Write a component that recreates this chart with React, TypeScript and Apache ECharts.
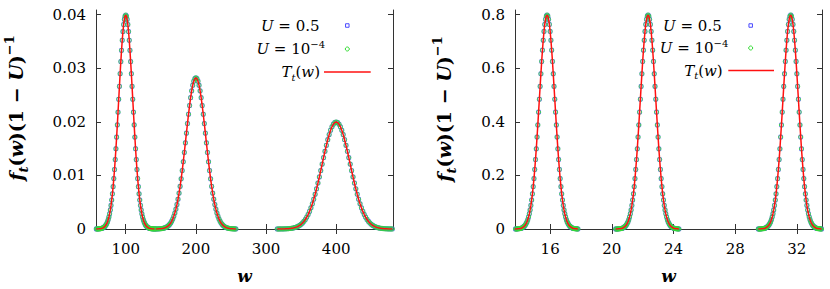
import React, { useEffect, useRef } from "react";
import * as echarts from "echarts";

// ---------- Left panel (w in [58, 481]) ----------
const leftXTicks = [100, 200, 300, 400];
const leftYTicks = [0, 0.01, 0.02, 0.03, 0.04];

const leftPeak1W = [58, 59, 60, 61, 62, 63, 64, 65, 66, 67, 68, 69, 70, 71, 72, 73, 74, 75, 76, 77, 78, 79,
  80, 81, 82, 83, 84, 85, 86, 87, 88, 89, 90, 91, 92, 93, 94, 95, 96, 97, 98, 99, 100,
  101, 102, 103, 104, 105, 106, 107, 108, 109, 110, 111, 112, 113, 114, 115, 116, 117, 118, 119, 120,
  121, 122, 123, 124, 125, 126, 127, 128, 129, 130, 131, 132, 133, 134, 135, 136, 137, 138, 139, 140, 141, 142];
const leftPeak1F = [0.00001, 0.00001, 0.00001, 0.00002, 0.00003, 0.00004, 0.00006, 0.00009, 0.00012, 0.00017,
  0.00024, 0.00033, 0.00044, 0.0006, 0.00079, 0.00104, 0.00136, 0.00175, 0.00224, 0.00283, 0.00355, 0.0044,
  0.0054, 0.00656, 0.0079, 0.00941, 0.01109, 0.01295, 0.01497, 0.01714, 0.01942, 0.02179, 0.0242, 0.02661,
  0.02897, 0.03123, 0.03333, 0.03521, 0.03683, 0.03814, 0.03911, 0.0397, 0.0399,
  0.0397, 0.03911, 0.03814, 0.03683, 0.03521, 0.03333, 0.03123, 0.02897, 0.02661, 0.0242, 0.02179, 0.01942,
  0.01714, 0.01497, 0.01295, 0.01109, 0.00941, 0.0079, 0.00656, 0.0054, 0.0044, 0.00355, 0.00283, 0.00224,
  0.00175, 0.00136, 0.00104, 0.00079, 0.0006, 0.00044, 0.00033, 0.00024, 0.00017, 0.00012, 0.00009, 0.00006,
  0.00004, 0.00003, 0.00002, 0.00001, 0.00001, 0.00001];

const leftPeak2W = [143, 144.5, 146, 147.5, 149, 150.5, 152, 153.5, 155, 156.5, 158, 159.5, 161, 162.5, 164, 165.5,
  167, 168.5, 170, 171.5, 173, 174.5, 176, 177.5, 179, 180.5, 182, 183.5, 185, 186.5, 188, 189.5, 191, 192.5,
  194, 195.5, 197, 198.5, 200, 201.5, 203, 204.5, 206, 207.5, 209, 210.5, 212, 213.5, 215, 216.5, 218, 219.5,
  221, 222.5, 224, 225.5, 227, 228.5, 230, 231.5, 233, 234.5, 236, 237.5, 239, 240.5, 242, 243.5, 245, 246.5,
  248, 249.5, 251, 252.5, 254, 255.5, 257];
const leftPeak2F = [0.00001, 0.00001, 0.00002, 0.00003, 0.00004, 0.00006, 0.00009, 0.00013, 0.00018, 0.00025,
  0.00034, 0.00047, 0.00063, 0.00084, 0.0011, 0.00144, 0.00185, 0.00236, 0.00297, 0.0037, 0.00456, 0.00555,
  0.00668, 0.00795, 0.00936, 0.0109, 0.01254, 0.01428, 0.01607, 0.01788, 0.01967, 0.02141, 0.02303, 0.0245,
  0.02577, 0.02681, 0.02757, 0.02804, 0.0282,
  0.02804, 0.02757, 0.02681, 0.02577, 0.0245, 0.02303, 0.02141, 0.01967, 0.01788, 0.01607, 0.01428, 0.01254,
  0.0109, 0.00936, 0.00795, 0.00668, 0.00555, 0.00456, 0.0037, 0.00297, 0.00236, 0.00185, 0.00144, 0.0011,
  0.00084, 0.00063, 0.00047, 0.00034, 0.00025, 0.00018, 0.00013, 0.00009, 0.00006, 0.00004, 0.00003, 0.00002,
  0.00001, 0.00001];

const leftPeak3W = [316, 318, 320, 322, 324, 326, 328, 330, 332, 334, 336, 338, 340, 342, 344, 346, 348, 350,
  352, 354, 356, 358, 360, 362, 364, 366, 368, 370, 372, 374, 376, 378, 380, 382, 384, 386, 388, 390, 392,
  394, 396, 398, 400, 402, 404, 406, 408, 410, 412, 414, 416, 418, 420, 422, 424, 426, 428, 430, 432, 434,
  436, 438, 440, 442, 444, 446, 448, 450, 452, 454, 456, 458, 460, 462, 464, 466, 468, 470, 472, 474, 476,
  478, 480];
const leftPeak3F = [0, 0, 0.00001, 0.00001, 0.00001, 0.00002, 0.00003, 0.00004, 0.00006, 0.00009, 0.00012,
  0.00016, 0.00022, 0.0003, 0.0004, 0.00052, 0.00068, 0.00088, 0.00112, 0.00142, 0.00177, 0.0022, 0.0027,
  0.00328, 0.00395, 0.0047, 0.00555, 0.00648, 0.00749, 0.00857, 0.00971, 0.01089, 0.0121, 0.01331, 0.01449,
  0.01561, 0.01666, 0.01761, 0.01842, 0.01907, 0.01955, 0.01985, 0.01995,
  0.01985, 0.01955, 0.01907, 0.01842, 0.01761, 0.01666, 0.01561, 0.01449, 0.01331, 0.0121, 0.01089, 0.00971,
  0.00857, 0.00749, 0.00648, 0.00555, 0.0047, 0.00395, 0.00328, 0.0027, 0.0022, 0.00177, 0.00142, 0.00112,
  0.00088, 0.00068, 0.00052, 0.0004, 0.0003, 0.00022, 0.00016, 0.00012, 0.00009, 0.00006, 0.00004, 0.00003,
  0.00002, 0.00001, 0.00001, 0.00001];

// ---------- Right panel (w in [13.72, 33.63]) ----------
const rightXTicks = [16, 20, 24, 28, 32];
const rightYTicks = [0, 0.2, 0.4, 0.6, 0.8];

const rightPeak1W = [13.7, 13.75, 13.8, 13.85, 13.9, 13.95, 14, 14.05, 14.1, 14.15, 14.2, 14.25, 14.3, 14.35,
  14.4, 14.45, 14.5, 14.55, 14.6, 14.65, 14.7, 14.75, 14.8, 14.85, 14.9, 14.95, 15, 15.05, 15.1, 15.15, 15.2,
  15.25, 15.3, 15.35, 15.4, 15.45, 15.5, 15.55, 15.6, 15.65, 15.7, 15.75, 15.8, 15.85, 15.9, 15.95, 16, 16.05,
  16.1, 16.15, 16.2, 16.25, 16.3, 16.35, 16.4, 16.45, 16.5, 16.55, 16.6, 16.65, 16.7, 16.75, 16.8, 16.85, 16.9,
  16.95, 17, 17.05, 17.1, 17.15, 17.2, 17.25, 17.3, 17.35, 17.4, 17.45, 17.5, 17.55, 17.6, 17.65, 17.7, 17.75,
  17.8];
const rightPeak2W = [20.25, 20.3, 20.35, 20.4, 20.45, 20.5, 20.55, 20.6, 20.65, 20.7, 20.75, 20.8, 20.85, 20.9,
  20.95, 21, 21.05, 21.1, 21.15, 21.2, 21.25, 21.3, 21.35, 21.4, 21.45, 21.5, 21.55, 21.6, 21.65, 21.7, 21.75,
  21.8, 21.85, 21.9, 21.95, 22, 22.05, 22.1, 22.15, 22.2, 22.25, 22.3, 22.35, 22.4, 22.45, 22.5, 22.55, 22.6,
  22.65, 22.7, 22.75, 22.8, 22.85, 22.9, 22.95, 23, 23.05, 23.1, 23.15, 23.2, 23.25, 23.3, 23.35, 23.4, 23.45,
  23.5, 23.55, 23.6, 23.65, 23.7, 23.75, 23.8, 23.85, 23.9, 23.95, 24, 24.05, 24.1, 24.15, 24.2, 24.25, 24.3,
  24.35];
const rightPeak3W = [29.5, 29.55, 29.6, 29.65, 29.7, 29.75, 29.8, 29.85, 29.9, 29.95, 30, 30.05, 30.1, 30.15,
  30.2, 30.25, 30.3, 30.35, 30.4, 30.45, 30.5, 30.55, 30.6, 30.65, 30.7, 30.75, 30.8, 30.85, 30.9, 30.95, 31,
  31.05, 31.1, 31.15, 31.2, 31.25, 31.3, 31.35, 31.4, 31.45, 31.5, 31.55, 31.6, 31.65, 31.7, 31.75, 31.8, 31.85,
  31.9, 31.95, 32, 32.05, 32.1, 32.15, 32.2, 32.25, 32.3, 32.35, 32.4, 32.45, 32.5, 32.55, 32.6, 32.65, 32.7,
  32.75, 32.8, 32.85, 32.9, 32.95, 33, 33.05, 33.1, 33.15, 33.2, 33.25, 33.3, 33.35, 33.4, 33.45, 33.5, 33.55,
  33.6];
const rightPeakF = [0, 0, 0, 0, 0.001, 0.001, 0.001, 0.002, 0.002, 0.003, 0.005, 0.007, 0.009, 0.012, 0.016,
  0.021, 0.027, 0.035, 0.045, 0.057, 0.071, 0.088, 0.108, 0.131, 0.158, 0.188, 0.222, 0.259, 0.299, 0.343,
  0.388, 0.436, 0.484, 0.532, 0.579, 0.625, 0.667, 0.704, 0.737, 0.763, 0.782, 0.794, 0.798,
  0.794, 0.782, 0.763, 0.737, 0.704, 0.667, 0.625, 0.579, 0.532, 0.484, 0.436, 0.388, 0.343, 0.299, 0.259,
  0.222, 0.188, 0.158, 0.131, 0.108, 0.088, 0.071, 0.057, 0.045, 0.035, 0.027, 0.021, 0.016, 0.012, 0.009,
  0.007, 0.005, 0.003, 0.002, 0.002, 0.001, 0.001, 0.001, 0, 0];

const FONT = "DejaVu Serif";
const BLUE = "#4a4aff";
const GREEN = "#33dd33";
const RED = "#ff1010";

const zip = (w: number[], f: number[]) => w.map((x, i) => [x, f[i]]);

function panelSeries(grid: number, peaks: [number[], number[]][]) {
  const s: any[] = [];
  peaks.forEach(([w, f]) =>
    s.push({
      type: "scatter", xAxisIndex: grid * 2, yAxisIndex: grid * 2, data: zip(w, f),
      symbol: "rect", symbolSize: 3.6, z: 2, silent: true,
      itemStyle: { color: "rgba(0,0,0,0)", borderColor: BLUE, borderWidth: 1, opacity: 0.8 },
    })
  );
  peaks.forEach(([w, f]) =>
    s.push({
      type: "scatter", xAxisIndex: grid * 2, yAxisIndex: grid * 2, data: zip(w, f),
      symbol: "circle", symbolSize: 4.2, z: 3, silent: true,
      itemStyle: { color: "rgba(0,0,0,0)", borderColor: GREEN, borderWidth: 1, opacity: 0.8 },
    })
  );
  peaks.forEach(([w, f]) =>
    s.push({
      type: "line", xAxisIndex: grid * 2, yAxisIndex: grid * 2, data: zip(w, f),
      showSymbol: false, z: 4, silent: true,
      lineStyle: { color: RED, width: 1.5 },
    })
  );
  return s;
}

const axisLineStyle = { show: true, lineStyle: { color: "#333", width: 1 } };
const labelStyle = { fontFamily: FONT, fontSize: 15, color: "#000" };

function xAxes(grid: number, min: number, max: number, ticks: number[]) {
  return [
    {
      type: "value", gridIndex: grid, min, max, position: "bottom",
      axisLine: axisLineStyle,
      axisTick: { show: true, inside: true, length: 5, customValues: ticks, lineStyle: { color: "#333" } },
      axisLabel: { show: true, customValues: ticks, margin: 12, ...labelStyle },
      splitLine: { show: false },
      name: "w", nameLocation: "middle", nameGap: 38,
      nameTextStyle: { fontFamily: FONT, fontStyle: "italic", fontWeight: "bold", fontSize: 17, color: "#000" },
    },
    {
      type: "value", gridIndex: grid, min, max, position: "top",
      axisLine: axisLineStyle,
      axisTick: { show: true, inside: true, length: 5, customValues: ticks, lineStyle: { color: "#333" } },
      axisLabel: { show: false },
      splitLine: { show: false },
    },
  ];
}

function yAxes(grid: number, max: number, ticks: number[]) {
  return [
    {
      type: "value", gridIndex: grid, min: 0, max, position: "left",
      axisLine: axisLineStyle,
      axisTick: { show: true, inside: true, length: 5, customValues: ticks, lineStyle: { color: "#333" } },
      axisLabel: { show: true, customValues: ticks, margin: 10, formatter: (v: number) => String(v), ...labelStyle },
      splitLine: { show: false },
    },
    {
      type: "value", gridIndex: grid, min: 0, max, position: "right",
      axisLine: axisLineStyle,
      axisTick: { show: true, inside: true, length: 5, customValues: ticks, lineStyle: { color: "#333" } },
      axisLabel: { show: false },
      splitLine: { show: false },
    },
  ];
}

const yLabelText = "{it|f}{sub|t}{rm|(}{it|w}{rm|)(1 − }{it|U}{rm|)}{sup|−1}";
const yLabelRich = {
  it: { fontFamily: FONT, fontStyle: "italic", fontWeight: "bold", fontSize: 19, lineHeight: 27, fill: "#000" },
  rm: { fontFamily: FONT, fontWeight: "bold", fontSize: 19, lineHeight: 27, fill: "#000" },
  sub: { fontFamily: FONT, fontStyle: "italic", fontWeight: "bold", fontSize: 13, lineHeight: 13, verticalAlign: "bottom", fill: "#000" },
  sup: { fontFamily: FONT, fontWeight: "bold", fontSize: 13, lineHeight: 13, verticalAlign: "top", fill: "#000" },
};
const legRich = {
  i: { fontFamily: FONT, fontStyle: "italic", fontSize: 15, lineHeight: 20, fill: "#000" },
  r: { fontFamily: FONT, fontSize: 15, lineHeight: 20, fill: "#000" },
  sub: { fontFamily: FONT, fontStyle: "italic", fontSize: 10, lineHeight: 10, verticalAlign: "bottom", fill: "#000" },
  sup: { fontFamily: FONT, fontSize: 10, lineHeight: 10, verticalAlign: "top", fill: "#000" },
};

function legend(textRight: [number, number, number], sampleX: number, lineX: [number, number], rows: [number, number, number]) {
  const t = (text: string, x: number, y: number) => ({
    type: "text", x, y, silent: true,
    style: { text, rich: legRich, align: "right", verticalAlign: "middle" },
  });
  return [
    t("{i|U}{r| = 0.5}", textRight[0], rows[0]),
    t("{i|U}{r| = 10}{sup|−4}", textRight[1], rows[1]),
    t("{i|T}{sub|t}{r|(}{i|w}{r|)}", textRight[2], rows[2]),
    { type: "rect", silent: true, shape: { x: sampleX - 1.75, y: rows[0] - 1.75, width: 3.5, height: 3.5 },
      style: { fill: "none", stroke: BLUE, lineWidth: 1 } },
    { type: "circle", silent: true, shape: { cx: sampleX, cy: rows[1], r: 2 },
      style: { fill: "none", stroke: GREEN, lineWidth: 1 } },
    { type: "line", silent: true, shape: { x1: lineX[0], y1: rows[2], x2: lineX[1], y2: rows[2] },
      style: { stroke: RED, lineWidth: 1.5 } },
  ];
}

function yLabel(x: number, y: number) {
  return {
    type: "text", x, y, rotation: Math.PI / 2, silent: true,
    style: { text: yLabelText, rich: yLabelRich, align: "center", verticalAlign: "middle" },
  };
}

export default function App() {
  const ref = useRef<HTMLDivElement>(null);
  useEffect(() => {
    if (!ref.current) return;
    const chart = echarts.init(ref.current, undefined, { renderer: "svg" });
    chart.setOption({
      animation: false,
      backgroundColor: "#fff",
      grid: [
        { left: 96, top: 10, width: 297, height: 224, containLabel: false },
        { left: 515, top: 10, width: 307, height: 224, containLabel: false },
      ],
      xAxis: [...xAxes(0, 57.6, 481, leftXTicks), ...xAxes(1, 13.72, 33.63, rightXTicks)],
      yAxis: [...yAxes(0, 0.04086, leftYTicks), ...yAxes(1, 0.817, rightYTicks)],
      series: [
        ...panelSeries(0, [[leftPeak1W, leftPeak1F], [leftPeak2W, leftPeak2F], [leftPeak3W, leftPeak3F]]),
        ...panelSeries(1, [[rightPeak1W, rightPeakF], [rightPeak2W, rightPeakF], [rightPeak3W, rightPeakF]]),
      ],
      graphic: [
        yLabel(16, 108),
        yLabel(444, 109),
        ...legend([319.5, 325, 320], 347.3, [324, 370.7], [25.5, 49, 72]),
        ...legend([721.7, 728.3, 722.7], 750.7, [728.3, 774], [25.5, 48, 70.5]),
      ],
    });
    return () => chart.dispose();
  }, []);
  return <div ref={ref} style={{ position: "fixed", left: 0, top: 0, width: 830, height: 289 }} />;
}
